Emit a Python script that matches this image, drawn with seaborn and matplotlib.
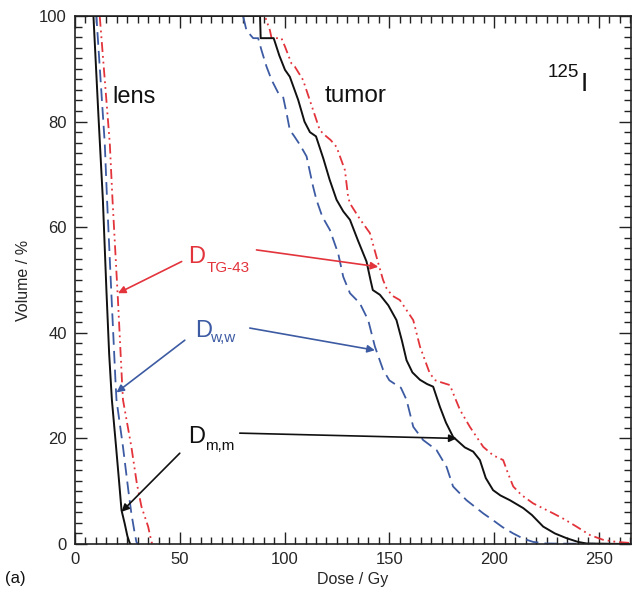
import matplotlib
matplotlib.use("Agg")
import matplotlib.pyplot as plt
import seaborn as sns
import pandas as pd
from matplotlib.ticker import MultipleLocator

# Cumulative dose-volume histograms, 125I plaque: lens and tumor
# Lens
lens_mm_dose = [0, 8.8, 11.2, 13.3, 15.0, 16.3, 17.6, 19.6, 21.0, 22.2, 23.7, 25.0, 26.1, 26.5]
lens_mm_vol = [100, 100, 81.0, 65.2, 48.0, 36.0, 27.3, 18.4, 12.0, 6.4, 3.9, 1.5, 0.2, 0]

lens_ww_dose = [0, 10.2, 14.2, 15.3, 17.5, 19.3, 19.8, 22.9, 25.5, 26.9, 28.3, 29.3, 30.0]
lens_ww_vol = [100, 100, 75.9, 65.2, 46.2, 31.0, 27.3, 18.4, 10.0, 5.8, 2.5, 0.4, 0]

lens_tg_dose = [0, 11.8, 16.6, 17.9, 20.5, 22.4, 22.9, 26.9, 29.5, 31.7, 34.9, 36.5, 37.0]
lens_tg_vol = [100, 100, 75.9, 65.2, 46.2, 31.0, 27.3, 18.4, 11.5, 7.1, 3.3, 0.4, 0]

# Tumor
tumor_mm_dose = [0, 88.3, 88.6, 94.8, 97.5, 100.2, 102.5, 106.5, 109.5, 112.1, 115.0, 118.5,
                 121.5, 124.8, 128.0, 131.2, 135.0, 139.1, 141.0, 142.1, 145.5, 149.5, 153.4,
                 156.0, 158.2, 161.0, 164.6, 168.0, 170.9, 174.1, 177.0, 180.4, 186.0, 190.0,
                 193.2, 196.0, 199.5, 203.0, 207.5, 213.9, 218.0, 223.4, 229.0, 234.6, 240.0,
                 244.1, 265.0]
tumor_mm_vol = [100, 100, 95.8, 95.8, 92.5, 89.8, 88.5, 84.1, 80.0, 78.0, 77.2, 73.0,
                69.0, 65.2, 63.0, 61.4, 57.5, 53.5, 50.0, 48.1, 47.2, 45.2, 42.4,
                38.5, 34.8, 32.5, 31.1, 30.3, 29.8, 26.0, 23.0, 20.3, 18.3, 17.5,
                15.9, 12.5, 10.2, 9.2, 8.3, 6.8, 5.5, 3.3, 2.0, 1.1, 0.4,
                0.1, 0]

tumor_ww_dose = [0, 80.2, 81.8, 85.0, 87.4, 89.0, 91.4, 93.8, 97.0, 99.3, 101.0, 102.5,
                 104.5, 107.5, 110.5, 113.6, 115.2, 118.0, 121.6, 125.6, 128.0, 131.2,
                 135.9, 139.9, 143.1, 147.0, 150.0, 153.4, 155.5, 158.2, 161.4, 166.1,
                 172.5, 177.3, 180.4, 186.8, 194.8, 199.5, 204.0, 209.1, 214.0, 218.6,
                 225.0, 265.0]
tumor_ww_vol = [100, 100, 97.3, 95.8, 95.8, 93.5, 90.4, 87.9, 85.4, 84.7, 81.5, 78.4,
                77.3, 75.5, 73.4, 67.7, 65.2, 62.0, 59.5, 55.0, 50.6, 47.5,
                45.6, 42.4, 37.4, 33.0, 31.0, 30.1, 29.6, 27.3, 22.2, 19.7,
                17.8, 14.6, 10.9, 8.3, 5.8, 4.5, 3.2, 2.0, 1.0, 0.4,
                0.1, 0]

tumor_tg_dose = [0, 90.6, 93.0, 93.8, 98.5, 100.2, 103.3, 104.9, 108.8, 113.6, 116.8, 119.0,
                 122.0, 124.8, 128.8, 130.3, 131.2, 136.0, 140.7, 144.7, 147.0, 148.7,
                 151.5, 155.0, 161.4, 164.6, 169.3, 172.0, 174.1, 178.9, 181.0, 183.7,
                 188.4, 194.8, 199.5, 204.3, 206.5, 209.1, 213.0, 218.6, 228.2, 233.0,
                 239.3, 245.7, 252.0, 258.4, 265.0]
tumor_tg_vol = [100, 100, 97.3, 95.8, 95.8, 94.2, 91.0, 90.4, 87.9, 82.2, 78.4, 77.5,
                76.5, 75.2, 70.8, 65.8, 64.5, 61.5, 58.9, 53.2, 50.0, 48.4,
                47.0, 46.2, 42.4, 37.4, 32.3, 31.0, 30.7, 30.1, 28.0, 25.4,
                22.2, 18.4, 16.8, 15.9, 13.5, 10.9, 9.3, 7.7, 5.8, 4.8,
                3.3, 1.7, 0.8, 0.4, 0.2]

RED = "#e3343c"
BLUE = "#3d5ba3"
BLACK = "#111111"

sns.set_style("ticks")
plt.rcParams["font.family"] = ["Liberation Sans", "DejaVu Sans"]

fig = plt.figure(figsize=(6.35, 6.01), dpi=100)
ax = fig.add_axes([0.1181, 0.0948, 0.8756, 0.8786])

styles = {
    "mm": dict(color=BLACK, linestyle="-", lw=1.4),
    "ww": dict(color=BLUE, linestyle=(0, (7, 3.4)), lw=1.3),
    "tg": dict(color=RED, linestyle=(0, (5.5, 2.2, 1.0, 2.2, 1.0, 2.2)), lw=1.3),
}

curves = [
    ("ww", lens_ww_dose, lens_ww_vol), ("tg", lens_tg_dose, lens_tg_vol),
    ("mm", lens_mm_dose, lens_mm_vol),
    ("ww", tumor_ww_dose, tumor_ww_vol), ("tg", tumor_tg_dose, tumor_tg_vol),
    ("mm", tumor_mm_dose, tumor_mm_vol),
]
for key, d, v in curves:
    df = pd.DataFrame({"dose": d, "vol": v})
    sns.lineplot(data=df, x="dose", y="vol", ax=ax, sort=False, estimator=None,
                 **styles[key])

ax.set_xlim(0, 265.3)
ax.set_ylim(0, 100)
ax.xaxis.set_major_locator(MultipleLocator(50))
ax.xaxis.set_minor_locator(MultipleLocator(5))
ax.yaxis.set_major_locator(MultipleLocator(20))
ax.yaxis.set_minor_locator(MultipleLocator(2))
ax.tick_params(which="both", direction="in", top=True, right=True, width=1.0,
               color="#222222", labelsize=12, pad=6)
ax.tick_params(which="major", length=8.5)
ax.tick_params(which="minor", length=5)
for s in ax.spines.values():
    s.set_linewidth(1.2)
    s.set_color("#222222")
ax.set_xlabel("Dose / Gy", fontsize=11.5, labelpad=3)
ax.set_ylabel("Volume / %", fontsize=11.5, labelpad=6)

# Structure labels
ax.text(18.0, 83.5, "lens", fontsize=17, color=BLACK)
ax.text(119.2, 83.8, "tumor", fontsize=17.5, color=BLACK)
ax.text(225.7, 88.5, "125", fontsize=13.5, color=BLACK)
ax.text(241.5, 85.7, "I", fontsize=19, color=BLACK)

# Curve labels with subscripts
def dlabel(x, y, sub, sx, sy, color):
    ax.text(x, y, "D", fontsize=17, color=color)
    ax.text(sx, sy, sub, fontsize=11, color=color)

dlabel(53.8, 53.2, "TG-43", 62.7, 51.6, RED)
dlabel(57.2, 39.3, "w,w", 64.3, 38.3, BLUE)
dlabel(54.0, 19.1, "m,m", 61.9, 17.8, BLACK)

arrows = [
    ((50.9, 53.5), (20.5, 47.5), RED),
    ((86.6, 55.7), (144.7, 52.5), RED),
    ((52.4, 38.6), (19.8, 28.7), BLUE),
    ((83.4, 40.9), (143.1, 36.7), BLUE),
    ((50.0, 17.2), (22.2, 6.1), BLACK),
    ((78.6, 21.0), (182.1, 20.0), BLACK),
]
for tail, head, c in arrows:
    ax.annotate("", xy=head, xytext=tail,
                arrowprops=dict(arrowstyle="-|>", color=c, lw=1.2,
                                mutation_scale=11, shrinkA=0, shrinkB=0))

fig.text(0.008, 0.030, "(a)", fontsize=12, color=BLACK)

fig.savefig("out.png", dpi=100)
